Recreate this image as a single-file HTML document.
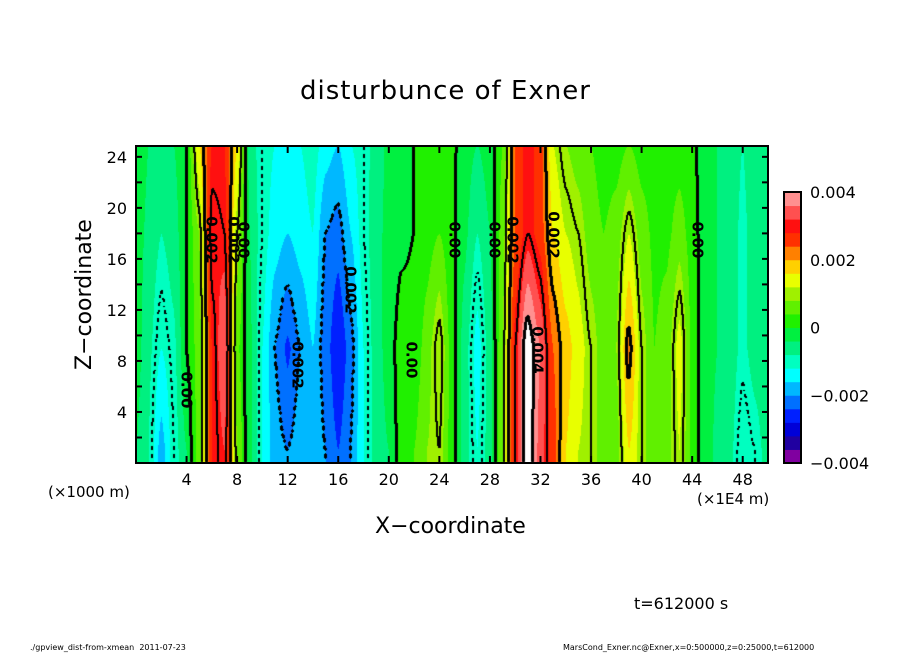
<!DOCTYPE html>
<html><head><meta charset="utf-8">
<style>
body{margin:0;background:#fff;width:904px;height:654px;overflow:hidden;font-family:"DejaVu Sans","Liberation Sans",sans-serif;}
#wrap{position:relative;width:904px;height:654px;}
.t{position:absolute;white-space:nowrap;color:#000;}
canvas{position:absolute;}
</style></head>
<body>
<div id="wrap">
<div class="t" style="left:300px;top:76px;font-size:26px;letter-spacing:1px;">disturbunce of Exner</div>
<canvas id="plot" width="632" height="317" style="left:136px;top:146px;"></canvas>
<svg id="axes" width="904" height="654" style="position:absolute;left:0;top:0"></svg>
<div class="t" style="left:20px;top:292px;font-size:22px;transform:rotate(-90deg);transform-origin:65px 13px;width:130px;">Z−coordinate</div>
<div class="t" style="left:375px;top:514px;font-size:22px;">X−coordinate</div>
<div class="t" style="left:48px;top:483px;font-size:15px;">(×1000 m)</div>
<div class="t" style="left:697px;top:490px;font-size:15px;">(×1E4 m)</div>
<div class="t" style="left:634px;top:594px;font-size:16px;">t=612000 s</div>
<div class="t" style="left:30px;top:643px;font-size:8px;">./gpview_dist-from-xmean&nbsp;&nbsp;2011-07-23</div>
<div class="t" style="left:563px;top:643px;font-size:8px;">MarsCond_Exner.nc@Exner,x=0:500000,z=0:25000,t=612000</div>
</div>
<script>
// data in units of 1e-3
const xNodes = [];
for (let i = 0; i <= 50; i++) xNodes.push(i);
const zNodes = [1, 9, 18, 25];
const rowBottom = [-0.4,-0.8,-1.8,-1.0,-0.4,0.6,2.8,3.2,0.8,-0.3,-1.2,-1.8,-2.0,-1.8,-1.6,-2.0,-2.4,-2.0,-1.2,-0.6,-0.4,0.2,0.4,0.8,1.0,0.2,-0.6,-1.2,-0.6,0.8,3.0,4.4,3.4,2.6,1.6,1.2,1.0,0.6,0.6,1.6,1.0,0.4,0.6,1.2,0.3,-0.2,-0.5,-0.7,-1.2,-1.0,-0.6];
const rowMid = [-0.2,-0.7,-1.2,-0.9,0.0,0.6,2.8,3.6,0.5,-0.3,-1.2,-2.0,-2.5,-2.0,-1.6,-2.2,-2.8,-2.2,-1.2,-0.6,-0.2,0.2,0.1,0.6,1.2,0.2,-0.6,-1.4,-0.6,0.8,3.0,4.4,3.6,2.4,1.8,1.4,1.0,0.6,0.8,2.2,1.0,0.4,0.6,1.4,0.3,-0.2,-0.4,-0.6,-0.9,-0.6,-0.4];
const rowUpper = [-0.2,-0.5,-0.8,-0.6,0.0,0.8,3.2,3.0,1.0,-0.4,-1.0,-1.4,-1.6,-1.4,-1.2,-2.0,-2.2,-1.6,-1.0,-0.5,-0.3,-0.1,0.0,0.2,0.4,0.1,-0.3,-0.8,-0.4,0.6,2.4,3.0,2.6,1.6,1.2,1.0,0.6,0.4,0.6,1.2,0.6,0.3,0.3,0.6,0.2,-0.2,-0.4,-0.6,-0.9,-0.6,-0.4];
const rowTop = [-0.1,-0.4,-0.5,-0.4,0.0,1.6,2.8,2.8,1.6,-0.6,-1.0,-1.2,-1.2,-1.2,-1.0,-1.4,-1.6,-1.2,-1.0,-0.6,-0.3,-0.1,0.0,0.1,0.2,0.1,-0.2,-0.4,-0.2,0.4,2.4,3.0,2.6,1.2,0.8,0.6,0.4,0.2,0.2,0.4,0.2,0.2,0.2,0.2,0.1,-0.2,-0.4,-0.6,-0.8,-0.5,-0.4];
const levelColors = ['#8000a0','#2000a0','#0000d8','#0020ff','#0070ff','#00b8ff','#00ffff','#00ffc0','#00f080','#00f040','#20f000','#60f000','#a0f000','#e8ff00','#ffd000','#ff8000','#ff3000','#ff1010','#ff5050','#ff9090'];
const xTicks = [4,8,12,16,20,24,28,32,36,40,44,48];
const zTicks = [4,8,12,16,20,24];
const cbTicks = [0.004,0.002,0,-0.002,-0.004];
const cbLabels = ['0.004','0.002','0','−0.002','−0.004'];

const rows = [rowBottom,rowMid,rowUpper,rowTop];
const X0=136,Y0=146,W=632,H=317,XMAX=50,ZMAX=24.85;
const sx = x => X0 + x/XMAX*W;
const sz = z => Y0 + H - z/ZMAX*H;
function val(x,z){
  let i=Math.min(49,Math.floor(x)); let fx=x-i;
  let j=0; while(j<zNodes.length-2 && z>zNodes[j+1]) j++;
  let fz=(z-zNodes[j])/(zNodes[j+1]-zNodes[j]); fz=Math.max(0,Math.min(1,fz));
  fx = fx*fx*(3-2*fx)*0.5+fx*0.5;
  const a=rows[j][i]*(1-fx)+rows[j][i+1]*fx;
  const b=rows[j+1][i]*(1-fx)+rows[j+1][i+1]*fx;
  return a*(1-fz)+b*fz;
}
function hex(c){return [parseInt(c.slice(1,3),16),parseInt(c.slice(3,5),16),parseInt(c.slice(5,7),16)];}
const rgb = levelColors.map(hex);
const cv=document.getElementById('plot'); const ctx=cv.getContext('2d');
const img=ctx.createImageData(W,H);
const V=new Float32Array(W*H);
for(let py=0;py<H;py++)for(let px=0;px<W;px++){
  const x=(px+0.5)/W*XMAX, z=(H-py-0.5)/H*ZMAX;
  V[py*W+px]=val(x,z);
}
const lv=[-3,-2,-1,0,1,2,3,4];
for(let py=0;py<H;py++)for(let px=0;px<W;px++){
  const v=V[py*W+px]; let k=Math.floor((v+4)/0.4);
  let c = v>=4 ? [255,255,255] : rgb[Math.max(0,Math.min(19,k))];
  const o=(py*W+px)*4; img.data[o]=c[0];img.data[o+1]=c[1];img.data[o+2]=c[2];img.data[o+3]=255;
}
for(let py=0;py<H-1;py++)for(let px=0;px<W-1;px++){
  const v=V[py*W+px], vr=V[py*W+px+1], vd=V[(py+1)*W+px];
  for(const c of lv){
    if((v-c)*(vr-c)<0 || (v-c)*(vd-c)<0){
      if(c<0 && (((py>>2)+(px>>2))&1)) continue;
      const thick = (c%2===0);
      const pts = thick?[[0,0],[1,0],[0,1],[-1,0],[0,-1]]:[[0,0],[1,0]];
      for(const [dx,dy] of pts){const xx=px+dx,yy=py+dy;if(xx<0||yy<0)continue;const o=(yy*W+xx)*4;img.data[o]=0;img.data[o+1]=0;img.data[o+2]=0;}
    }
  }
}
ctx.putImageData(img,0,0);

const NS='http://www.w3.org/2000/svg';
const svg=document.getElementById('axes');
function el(t,a){const e=document.createElementNS(NS,t);for(const k in a)e.setAttribute(k,a[k]);svg.appendChild(e);return e;}
const frame=el('rect',{x:X0,y:Y0,width:W,height:H,fill:'none',stroke:'#000','stroke-width':2});


for(let x=0;x<=50;x+=4){
  el('line',{x1:sx(x),x2:sx(x),y1:Y0+H,y2:Y0+H-7,stroke:'#000','stroke-width':2});
  el('line',{x1:sx(x),x2:sx(x),y1:Y0,y2:Y0+7,stroke:'#000','stroke-width':2});
}
for(const x of xTicks){
  const t=el('text',{x:sx(x),y:485,'font-size':16,'text-anchor':'middle','font-family':'DejaVu Sans, sans-serif'});t.textContent=x;
  
  
}
for(let z=0;z<=24;z+=2){
  el('line',{x1:X0,x2:X0+6,y1:sz(z),y2:sz(z),stroke:'#000','stroke-width':2});
  el('line',{x1:X0+W,x2:X0+W-6,y1:sz(z),y2:sz(z),stroke:'#000','stroke-width':2});
}
for(const z of zTicks){
  const t=el('text',{x:127,y:sz(z)+6,'font-size':16,'text-anchor':'end','font-family':'DejaVu Sans, sans-serif'});t.textContent=z;
  
  
}
const CBX=784,CBY=192,CBW=17,CBH=271;
for(let k=0;k<20;k++){
  const r=el('rect',{x:CBX,y:CBY+CBH-(k+1)*CBH/20,width:CBW,height:CBH/20+0.5,fill:levelColors[k]});
  
  
}
el('rect',{x:CBX,y:CBY,width:CBW,height:CBH,fill:'none',stroke:'#000','stroke-width':2});
cbTicks.forEach((v,i)=>{
  const t=el('text',{x:810,y:CBY+CBH-(v+0.004)/0.008*CBH+6,'font-size':16,'font-family':'DejaVu Sans, sans-serif'});t.textContent=cbLabels[i];
  
  
});
const labs=[[186,390,'0.00'],[211,240,'0.002'],[233,240,'0.002'],[243,240,'0.00'],[297,365,'0.002'],[350,290,'0.002'],[411,360,'0.00'],[454,240,'0.00'],[494,240,'0.00'],[512,240,'0.002'],[553,235,'0.002'],[537,350,'0.004'],[697,240,'0.00']];
labs.forEach(([x,y,s])=>{
  const t=el('text',{x:x,y:y,'font-size':15,'font-weight':'bold','text-anchor':'middle','font-family':'DejaVu Sans, sans-serif',transform:`rotate(90 ${x} ${y})`,'dominant-baseline':'middle'});t.textContent=s;
  
  
});
</script>
</body></html>
